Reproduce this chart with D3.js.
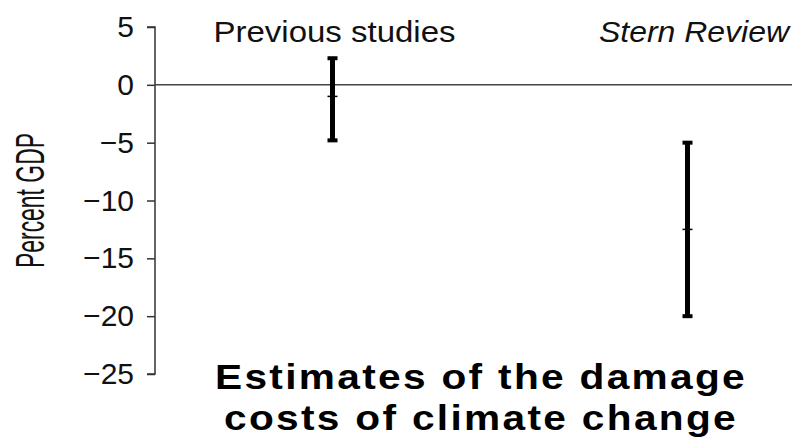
<!DOCTYPE html>
<html lang="en">
<head>
<meta charset="UTF-8" />
<title>Estimates of the damage costs of climate change</title>
<script src="https://cdn.jsdelivr.net/npm/d3@7"></script>
<style>
  body { margin: 0; background: #fff; }
  svg { display: block; font-family: "Liberation Sans", Arial, sans-serif; }
</style>
</head>
<body>
<div id="chart"></div>
<script>
// data (percent GDP)
const studies = ["Previous studies", "Stern Review"];
const lows = [-4.8, -20];
const highs = [2.3, -5];
const mids = [-1, -12.5];
const yTicks = [5, 0, -5, -10, -15, -20, -25];
const titleLines = ["Estimates of the damage", "costs of climate change"];

const width = 792, height = 443;

const svg = d3.select("#chart").append("svg")
  .attr("width", width)
  .attr("height", height);

const y = d3.scaleLinear().domain([5, -25]).range([27, 374]);
const x = d3.scalePoint().domain(studies).range([155, 865]).padding(0.5);

// y axis
const yAxis = svg.append("g")
  .attr("transform", "translate(155,0)")
  .call(d3.axisLeft(y).tickValues(yTicks).tickSize(8).tickPadding(13)
    .tickFormat(d => d < 0 ? "\u2212" + Math.abs(d) : d));
yAxis.select(".domain").attr("stroke", "#333").attr("stroke-width", 1.5)
  .attr("d", `M-8,${y(5)}H0V${y(-25)}H-8`);
yAxis.selectAll(".tick line").attr("stroke", "#333").attr("stroke-width", 1.5);
yAxis.selectAll(".tick text")
  .attr("fill", "#111")
  .attr("font-size", null)
  .style("font-size", "30px");
yAxis.attr("font-size", null).attr("font-family", null);

// zero line
svg.append("line")
  .attr("x1", 155).attr("x2", width)
  .attr("y1", y(0)).attr("y2", y(0))
  .attr("stroke", "#444").attr("stroke-width", 1.5);

// axis title
svg.append("text")
  .attr("transform", `translate(44,${(133 + 268) / 2}) rotate(-90)`)
  .attr("text-anchor", "middle")
  .attr("textLength", 135)
  .attr("lengthAdjust", "spacingAndGlyphs")
  .style("font-size", "41px")
  .attr("fill", "#111")
  .text("Percent GDP");

// error bars
const bars = svg.append("g").selectAll("g")
  .data(studies)
  .join("g")
  .attr("transform", d => `translate(${x(d)},0)`);

bars.append("line")
  .attr("y1", (d, i) => y(highs[i]))
  .attr("y2", (d, i) => y(lows[i]))
  .attr("stroke", "#000").attr("stroke-width", 5);

bars.append("line")
  .attr("x1", -5).attr("x2", 5)
  .attr("y1", (d, i) => y(highs[i])).attr("y2", (d, i) => y(highs[i]))
  .attr("stroke", "#000").attr("stroke-width", 4);

bars.append("line")
  .attr("x1", -5).attr("x2", 5)
  .attr("y1", (d, i) => y(lows[i])).attr("y2", (d, i) => y(lows[i]))
  .attr("stroke", "#000").attr("stroke-width", 4);

bars.append("line")
  .attr("x1", -5).attr("x2", 5)
  .attr("y1", (d, i) => y(mids[i])).attr("y2", (d, i) => y(mids[i]))
  .attr("stroke", "#000").attr("stroke-width", 1.5);

// category labels
svg.append("text")
  .attr("x", x(studies[0]) + 2).attr("y", 42)
  .attr("text-anchor", "middle")
  .attr("textLength", 242)
  .attr("lengthAdjust", "spacingAndGlyphs")
  .style("font-size", "29px")
  .attr("fill", "#111")
  .text(studies[0]);

svg.append("text")
  .attr("x", 789).attr("y", 42)
  .attr("text-anchor", "end")
  .attr("textLength", 190)
  .attr("lengthAdjust", "spacingAndGlyphs")
  .style("font-size", "29px")
  .style("font-style", "italic")
  .attr("fill", "#111")
  .text(studies[1]);

// title
svg.append("g").selectAll("text")
  .data(titleLines)
  .join("text")
  .attr("x", 481)
  .attr("y", (d, i) => 389 + i * 41)
  .attr("text-anchor", "middle")
  .attr("textLength", (d, i) => i === 0 ? 532 : 514)
  .attr("lengthAdjust", "spacingAndGlyphs")
  .style("font-size", "35px")
  .style("letter-spacing", "2px")
  .style("font-weight", "bold")
  .attr("fill", "#000")
  .text(d => d);
</script>
</body>
</html>
